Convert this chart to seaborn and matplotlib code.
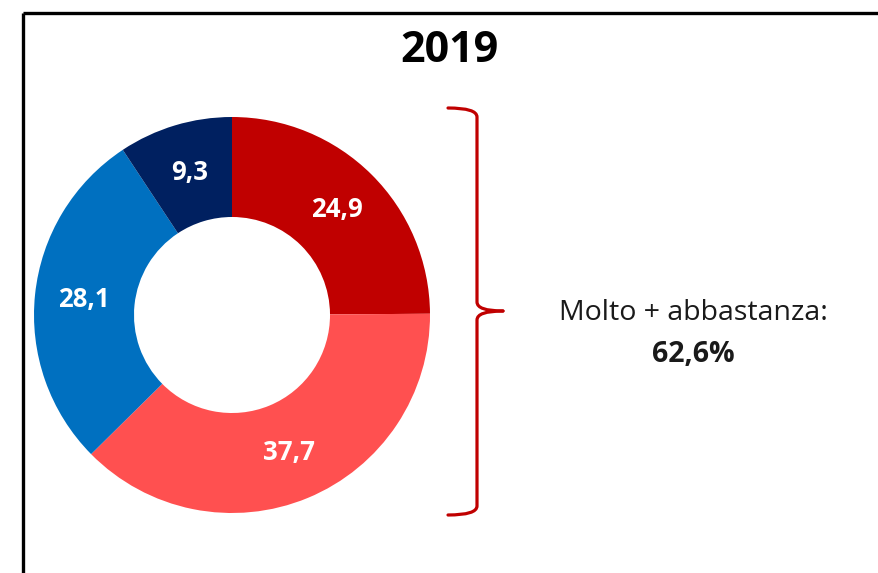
import matplotlib
matplotlib.use("Agg")
import matplotlib.pyplot as plt
from matplotlib.path import Path
from matplotlib.patches import PathPatch
import seaborn as sns

# Survey shares for 2019 (percent), clockwise from 12 o'clock
categories = ["Molto", "Abbastanza", "Poco", "Per niente"]
values = [24.9, 37.7, 28.1, 9.3]
colors = ["#C00000", "#FF5050", "#0070C0", "#002060"]
title = "2019"
summary_label = "Molto + abbastanza:"
summary_value = "62,6%"

sns.set_theme(style="white")
plt.rcParams["font.family"] = ["Open Sans", "DejaVu Sans"]

W, H = 879, 573
fig = plt.figure(figsize=(W / 100, H / 100), dpi=100)
ax = fig.add_axes([0, 0, 1, 1])

labels = [f"{v:.1f}".replace(".", ",") for v in values]
cx, cy, R = 232, H - 315, 198
wedges, texts = ax.pie(
    values,
    colors=colors,
    labels=labels,
    labeldistance=0.75,
    startangle=90,
    counterclock=False,
    radius=R,
    center=(cx, cy),
    frame=True,
    wedgeprops=dict(width=R * 0.505, linewidth=0),
    textprops=dict(color="white", fontsize=18.5, fontweight="bold",
                   ha="center", va="center"),
)
for t in texts:
    t.set_horizontalalignment("center")
    t.set_verticalalignment("center")

ax.set_xlim(0, W)
ax.set_ylim(0, H)
ax.set_aspect("auto")
ax.axis("off")

# Frame lines (top and left)
ax.plot([23, W], [H - 13, H - 13], color="black", lw=2.4, solid_capstyle="butt")
ax.plot([23, 23], [0, H - 13], color="black", lw=2.4, solid_capstyle="butt")

# Title
ax.text(449, H - 51, title, ha="center", va="center", fontsize=31,
        fontweight="bold", color="black")

# Curly bracket grouping the first two shares, built as two halves meeting at the tip
x0, x1, xt = 448, 477, 503
yt, ym, yb = H - 108, H - 311, H - 515
r = 9
top = Path([(x0, yt), (x1, yt), (x1, yt - r), (x1, ym + r), (x1, ym), (xt, ym)],
           [Path.MOVETO, Path.CURVE3, Path.CURVE3, Path.LINETO, Path.CURVE3, Path.CURVE3])
bot = Path([(xt, ym), (x1, ym), (x1, ym - r), (x1, yb + r), (x1, yb), (x0, yb)],
           [Path.MOVETO, Path.CURVE3, Path.CURVE3, Path.LINETO, Path.CURVE3, Path.CURVE3])
for p in (top, bot):
    ax.add_patch(PathPatch(p, fill=False, edgecolor="#C00000", lw=2.3,
                           capstyle="round", joinstyle="round"))

ax.text(693, H - 313, summary_label, ha="center", va="center",
        fontsize=20.5, color="#1a1a1a")
ax.text(693, H - 355, summary_value, ha="center", va="center",
        fontsize=20.5, fontweight="bold", color="#1a1a1a")

fig.savefig("out.png", dpi=100)
